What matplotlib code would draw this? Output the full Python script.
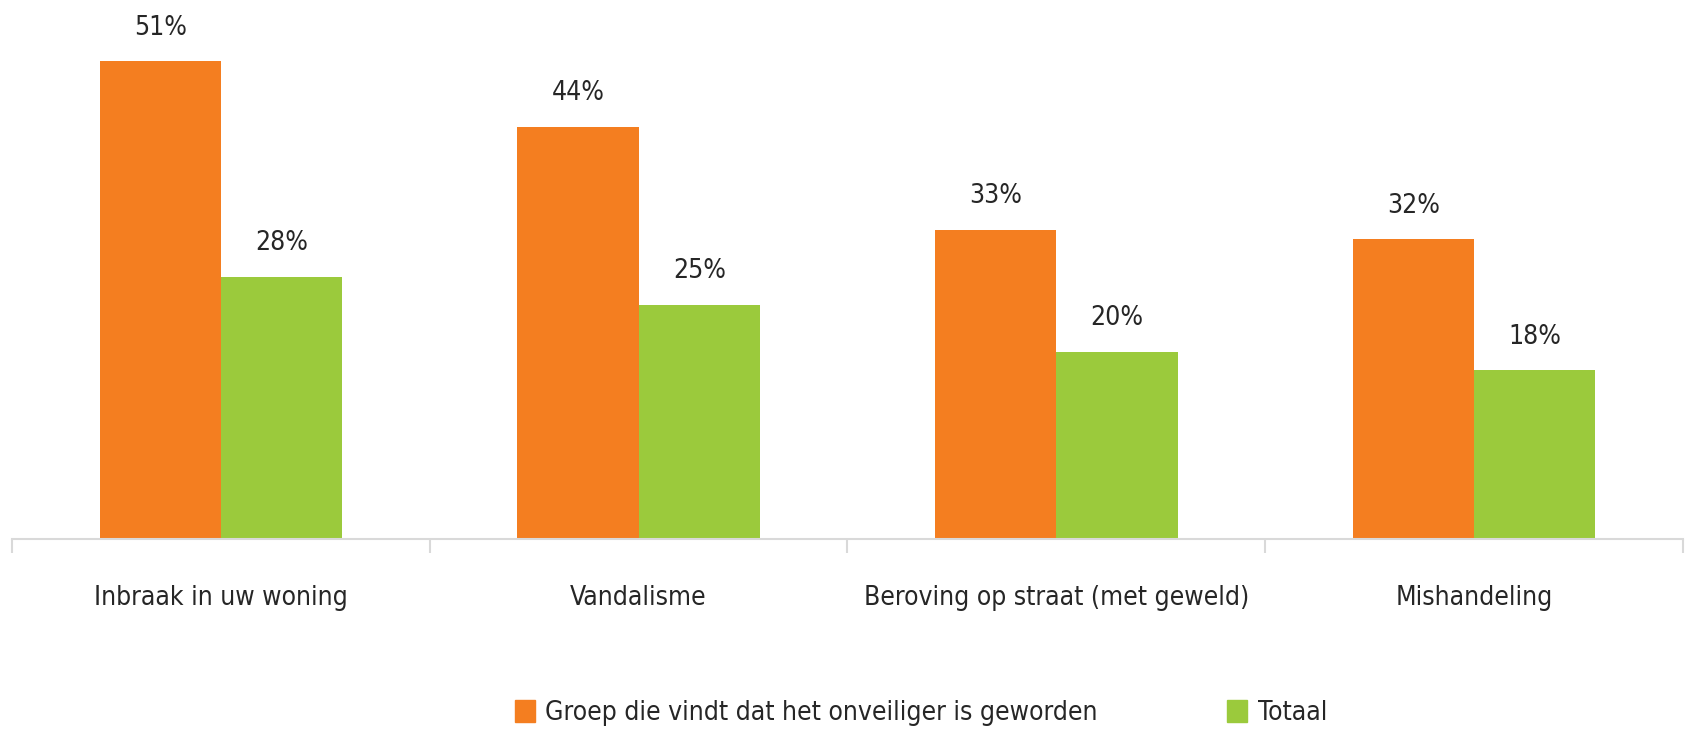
import matplotlib
matplotlib.use('Agg')
import matplotlib.pyplot as plt
from matplotlib.patches import Patch
import numpy as np

categories = ['Inbraak in uw woning', 'Vandalisme', 'Beroving op straat (met geweld)', 'Mishandeling']
groep = [51, 44, 33, 32]
totaal = [28, 25, 20, 18]
series_names = ['Groep die vindt dat het onveiliger is geworden', 'Totaal']

orange = '#F47E20'
green = '#9BCA3C'
grid_grey = '#D9D9D9'
text_col = '#262626'

plt.rcParams['font.family'] = ['DejaVu Sans']
plt.rcParams['font.stretch'] = 'condensed'

fig = plt.figure(figsize=(16.9, 7.35), dpi=100)
ax = fig.add_axes([12 / 1690, 1 - 539 / 735, (1683 - 12) / 1690, (539 - 24) / 735])

x = np.arange(len(categories))
w = 0.29
ax.bar(x - w / 2, groep, w, color=orange)
ax.bar(x + w / 2, totaal, w, color=green)

for xi, v in zip(x - w / 2, groep):
    ax.annotate(f'{v}%', (xi, v), xytext=(0, 15), textcoords='offset points',
                ha='center', va='bottom', fontsize=19, color=text_col)
for xi, v in zip(x + w / 2, totaal):
    ax.annotate(f'{v}%', (xi, v), xytext=(0, 15), textcoords='offset points',
                ha='center', va='bottom', fontsize=19, color=text_col)

ax.set_xlim(-0.5, len(categories) - 0.5)
ax.set_ylim(0, 55)
ax.set_yticks([])
for s in ['top', 'right', 'left']:
    ax.spines[s].set_visible(False)
ax.spines['bottom'].set_color(grid_grey)
ax.spines['bottom'].set_linewidth(1.5)

# category boundaries get the tick marks, labels sit in the middle
ax.set_xticks(np.arange(len(categories) + 1) - 0.5)
ax.set_xticklabels([])
ax.tick_params(axis='x', length=10, width=1.5, color=grid_grey)
ax.set_xticks(x, minor=True)
ax.set_xticklabels(categories, minor=True, fontsize=19, color=text_col)
ax.tick_params(axis='x', which='minor', length=0, pad=33)

handles = [Patch(color=orange, label=series_names[0]), Patch(color=green, label=series_names[1])]
fig.legend(handles=handles, loc='center', bbox_to_anchor=(0.545, 0.03), ncol=2,
           frameon=False, fontsize=19, handlelength=0.75, handleheight=0.9, handletextpad=0.4,
           columnspacing=4.9, labelcolor=text_col)

fig.savefig('out.png')
